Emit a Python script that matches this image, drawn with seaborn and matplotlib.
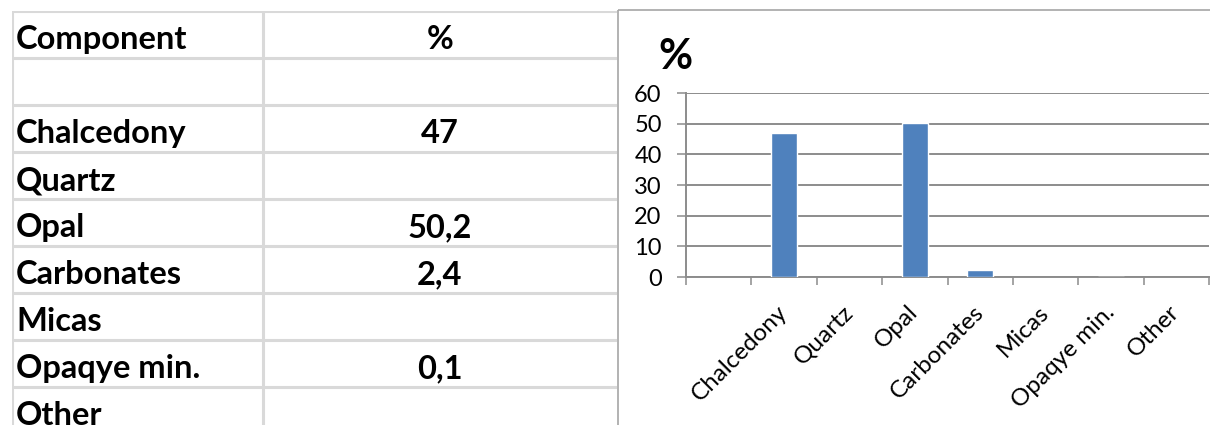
import numpy as np
import pandas as pd
import matplotlib
matplotlib.use("Agg")
import matplotlib.pyplot as plt
import seaborn as sns

# ---- data ----
components = ["", "Chalcedony", "Quartz", "Opal", "Carbonates", "Micas", "Opaqye min.", "Other"]
percent = [np.nan, 47.0, np.nan, 50.2, 2.4, np.nan, 0.1, np.nan]
percent_text = ["", "47", "", "50,2", "2,4", "", "0,1", ""]
header = ["Component", "%"]
y_ticks = [0, 10, 20, 30, 40, 50, 60]

sns.set_theme(style="white")
plt.rcParams["font.family"] = ["Lato", "DejaVu Sans"]

W, H = 1210, 425
fig = plt.figure(figsize=(W / 100, H / 100), dpi=100)
fig.patch.set_facecolor("white")

# ---------------- table (left) ----------------
tbl_left, tbl_right, tbl_top, row_h = 12, 617, 11, 47.0
n_rows = 1 + len(components)
axt = fig.add_axes([tbl_left / W, 1 - (tbl_top + n_rows * row_h) / H,
                    (tbl_right - tbl_left) / W, n_rows * row_h / H])
axt.set_xlim(0, 1)
axt.set_ylim(n_rows, 0)
axt.axis("off")
grid_c = "#d9d9d9"
for r in range(n_rows + 1):
    axt.axhline(r, color=grid_c, lw=2.2, zorder=1)
col_div = (262.5 - tbl_left) / (tbl_right - tbl_left)
for xv in (0, col_div):
    axt.axvline(xv, color=grid_c, lw=2.2, zorder=1)

txt_x0 = (16 - tbl_left) / (tbl_right - tbl_left)
txt_x1 = (440 - tbl_left) / (tbl_right - tbl_left)
base_off = 9.0 / row_h
rows_left = [header[0]] + components
rows_right = [header[1]] + percent_text
for i, (a, b) in enumerate(zip(rows_left, rows_right)):
    yb = i + 1 - base_off
    axt.text(txt_x0, yb, a, ha="left", va="baseline", fontsize=23.5,
             fontweight="bold", color="black")
    axt.text(txt_x1, yb, b, ha="center", va="baseline", fontsize=23.5,
             fontweight="bold", color="black")

# ---------------- chart border ----------------
axb = fig.add_axes([0, 0, 1, 1])
axb.set_xlim(0, W)
axb.set_ylim(H, 0)
axb.axis("off")
axb.plot([618, 618], [10, H], color="#a6a6a6", lw=1.2, solid_capstyle="butt")
axb.plot([618, W], [10, 10], color="#a6a6a6", lw=1.2, solid_capstyle="butt")

# ---------------- bar chart (right) ----------------
ax_l, ax_r, ax_t, ax_bt = 686, 1209, 93, 277
ax = fig.add_axes([ax_l / W, 1 - ax_bt / H, (ax_r - ax_l) / W, (ax_bt - ax_t) / H])
df = pd.DataFrame({"component": components, "percent": percent})
sns.barplot(data=df, x="component", y="percent", order=components,
            color="#4f81bd", saturation=1, width=0.4, ax=ax, zorder=3)
ax.set_xlim(-0.5, len(components) - 0.5)
ax.set_ylim(0, 60)
ax.set_yticks(y_ticks)
ax.set_yticklabels([str(t) for t in y_ticks], fontsize=17, color="black")
ax.set_xticks(range(len(components)))
ax.set_xticklabels(components, rotation=45, ha="right", va="center",
                   rotation_mode="anchor", fontsize=17.5, color="black")
ax.set_xticks(np.arange(-0.5, len(components) + 0.5, 1.0), minor=True)
ax.tick_params(axis="x", which="major", length=0, pad=23)
ax.tick_params(axis="x", which="minor", length=5.5, width=1.1, color="#8c8c8c",
               direction="out", bottom=True)
ax.tick_params(axis="y", which="major", length=6.5, width=1.1, color="#8c8c8c",
               direction="out", left=True, pad=11)
ax.grid(axis="y", color="#8c8c8c", lw=1.4, zorder=0)
ax.set_axisbelow(True)
for s in ("top", "right"):
    ax.spines[s].set_visible(False)
for s in ("left", "bottom"):
    ax.spines[s].set_color("#8c8c8c")
    ax.spines[s].set_linewidth(1.4)
ax.set_xlabel("")
ax.set_ylabel("")
ax.patch.set_alpha(0)

fig.text(675 / W, 1 - 57 / H, "%", ha="center", va="center", fontsize=30,
         fontweight="bold", color="black")

fig.savefig("out.png", dpi=100, facecolor="white")
